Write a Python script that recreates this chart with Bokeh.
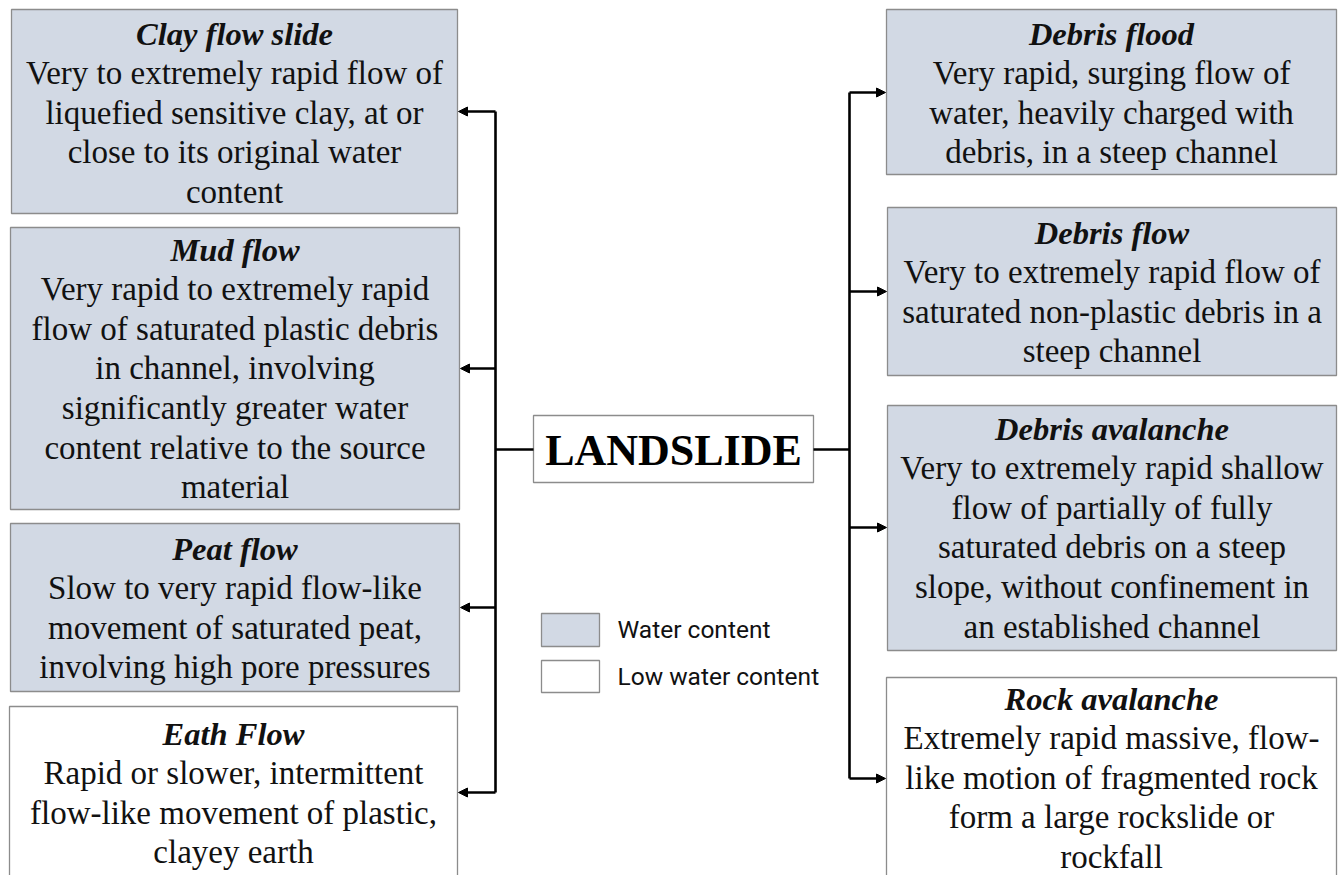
from bokeh.plotting import figure
from bokeh.models import Range1d, Arrow, NormalHead, ColumnDataSource
from bokeh.core.properties import value
from bokeh.embed import file_html
from bokeh.resources import INLINE

# ---- content ----
titles_left = ["Clay flow slide", "Mud flow", "Peat flow", "Eath Flow"]
desc_left = [
    ["Very to extremely rapid flow of", "liquefied sensitive clay, at or",
     "close to its original water", "content"],
    ["Very rapid to extremely rapid", "flow of saturated plastic debris",
     "in channel, involving", "significantly greater water",
     "content relative to the source", "material"],
    ["Slow to very rapid flow-like", "movement of saturated peat,",
     "involving high pore pressures"],
    ["Rapid or slower, intermittent", "flow-like movement of plastic,",
     "clayey earth"],
]
water_left = [True, True, True, False]

titles_right = ["Debris flood", "Debris flow", "Debris avalanche", "Rock avalanche"]
desc_right = [
    ["Very rapid, surging flow of", "water, heavily charged with",
     "debris, in a steep channel"],
    ["Very to extremely rapid flow of", "saturated non-plastic debris in a",
     "steep channel"],
    ["Very to extremely rapid shallow", "flow of partially of fully",
     "saturated debris on a steep", "slope, without confinement in",
     "an established channel"],
    ["Extremely rapid massive, flow-", "like motion of fragmented rock",
     "form a large rockslide or", "rockfall"],
]
water_right = [True, True, True, False]

root_label = "LANDSLIDE"
legend_labels = ["Water content", "Low water content"]

# ---- layout (pixel coordinates of the drawing) ----
left_boxes = [(11, 457, 9, 213), (10, 459, 227, 509), (10, 459, 523, 691), (9, 457, 706, 900)]
right_boxes = [(886, 1336, 9, 174), (887, 1336, 207, 375), (887, 1336, 405, 650), (886, 1336, 677, 900)]
left_title_y = [33, 249, 548, 733]
right_title_y = [33, 232, 428, 698]
left_arrow_y = [111, 368, 607, 792]
right_arrow_y = [92, 291, 527, 778]
LINE_GAP = 39.6

WATER = "#d2d9e4"
BORDER = "#8c8c8c"

p = figure(width=1339, height=875, output_backend="svg", toolbar_location=None,
           x_range=Range1d(0, 1339), y_range=Range1d(875, 0),
           min_border=0, outline_line_color=None)
p.axis.visible = False
p.grid.visible = False
p.background_fill_color = "white"
p.border_fill_color = "white"

def boxes(bxs, water):
    src = ColumnDataSource(dict(
        left=[b[0] for b in bxs], right=[b[1] for b in bxs],
        top=[b[2] for b in bxs], bottom=[b[3] for b in bxs],
        fill=[WATER if w else "white" for w in water]))
    p.quad(left="left", right="right", top="top", bottom="bottom", source=src,
           fill_color="fill", line_color=BORDER, line_width=1.3)

boxes(left_boxes, water_left)
boxes(right_boxes, water_right)

def texts(bxs, titles, descs, ty):
    tx, tyy, tt = [], [], []
    dx, dy, dt = [], [], []
    for b, t, d, y0 in zip(bxs, titles, descs, ty):
        cx = (b[0] + b[1]) / 2
        tx.append(cx); tyy.append(y0); tt.append(t)
        for i, line in enumerate(d):
            dx.append(cx); dy.append(y0 + LINE_GAP * (i + 1)); dt.append(line)
    p.text(x=tx, y=tyy, text=tt, text_font=value("Liberation Serif"),
           text_font_size="32.5px", text_font_style="bold italic",
           text_align="center", text_baseline="middle", text_color="#111111")
    p.text(x=dx, y=dy, text=dt, text_font=value("Liberation Serif"),
           text_font_size="33px", text_align="center", text_baseline="middle",
           text_color="#111111")

texts(left_boxes, titles_left, desc_left, left_title_y)
texts(right_boxes, titles_right, desc_right, right_title_y)

# root box
p.quad(left=[533], right=[813], top=[415], bottom=[482], fill_color="white",
       line_color=BORDER, line_width=1.3)
p.text(x=[673], y=[450], text=[root_label], text_font=value("Liberation Serif"),
       text_font_size="44px", text_font_style="bold", text_align="center",
       text_baseline="middle", text_color="#000000")

# connectors
LW = 2.6
LX, RX = 495, 849
p.line(x=[533, LX], y=[449, 449], line_width=LW, line_color="black")
p.line(x=[813, RX], y=[449, 449], line_width=LW, line_color="black")
p.line(x=[LX, LX], y=[min(left_arrow_y), max(left_arrow_y)], line_width=LW, line_color="black")
p.line(x=[RX, RX], y=[min(right_arrow_y), max(right_arrow_y)], line_width=LW, line_color="black")
for y, b in zip(left_arrow_y, left_boxes):
    p.add_layout(Arrow(x_start=LX, y_start=y, x_end=b[1] + 1, y_end=y, line_width=LW,
                       end=NormalHead(size=9, fill_color="black", line_color="black")))
for y, b in zip(right_arrow_y, right_boxes):
    p.add_layout(Arrow(x_start=RX, y_start=y, x_end=b[0] - 1, y_end=y, line_width=LW,
                       end=NormalHead(size=9, fill_color="black", line_color="black")))

# legend
p.quad(left=[541, 541], right=[599, 599], top=[613, 660], bottom=[646, 692],
       fill_color=[WATER, "white"], line_color=BORDER, line_width=1.3)
p.text(x=[617, 617], y=[629, 676], text=legend_labels, text_font=value("Roboto"),
       text_font_size="24.5px", text_align="left", text_baseline="middle",
       text_color="#111111")

open("out.html", "w").write(file_html(p, INLINE))
